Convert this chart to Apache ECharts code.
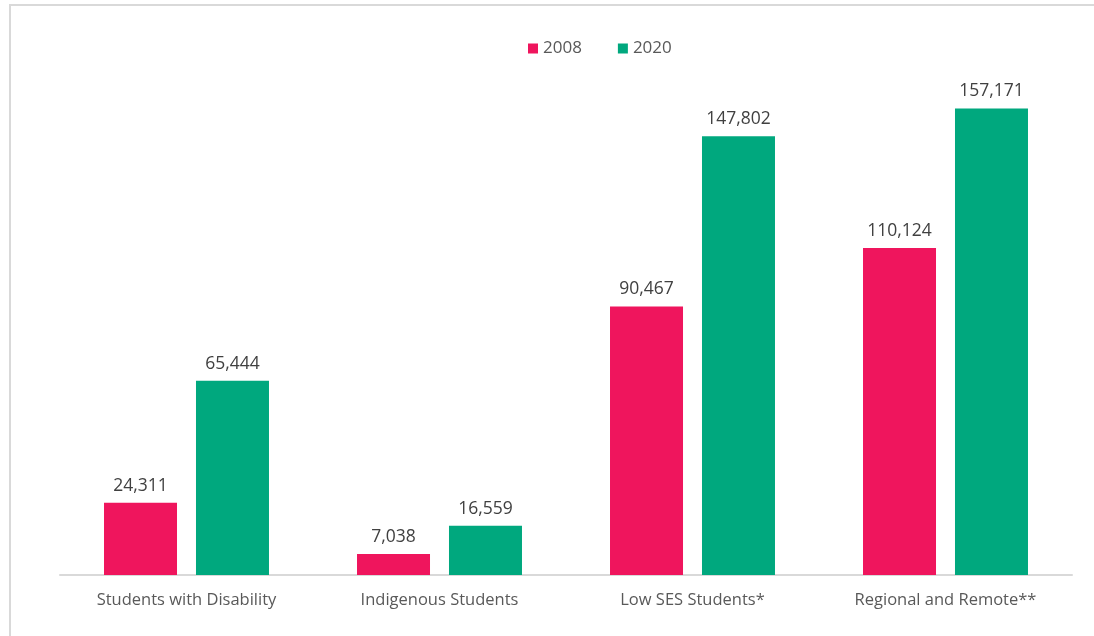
<!DOCTYPE html>
<html>
<head>
<meta charset="utf-8">
<script src="https://cdn.jsdelivr.net/npm/echarts@6/dist/echarts.min.js"></script>
<style>
  html, body { margin: 0; padding: 0; background: #fff; overflow: hidden; }
  .frame { position: absolute; left: 9px; top: 4px; width: 1200px; height: 800px; border: 2px solid #d9d9d9; box-sizing: border-box; }
  #chart { position: absolute; left: 0; top: 0; width: 1094px; height: 636px; }
</style>
</head>
<body>
<div class="frame"></div>
<div id="chart"></div>
<script>
  const categories = ['Students with Disability', 'Indigenous Students', 'Low SES Students*', 'Regional and Remote**']
  const values2008 = [24311, 7038, 90467, 110124]
  const values2020 = [65444, 16559, 147802, 157171]

  const fontFamily = '"Open Sans", "Noto Sans", sans-serif'
  const labelStyle = {
    show: true,
    position: 'top',
    distance: 8,
    color: '#404040',
    fontSize: 17.5,
    fontFamily: fontFamily,
    formatter: p => p.value.toLocaleString('en-US')
  }

  const myChart = echarts.init(document.getElementById('chart'))
  myChart.setOption({
    animation: false,
    legend: {
      top: 35,
      left: 523,
      itemWidth: 10,
      itemHeight: 10,
      itemGap: 36,
      icon: 'rect',
      textStyle: { color: '#595959', fontSize: 17, fontFamily: fontFamily }
    },
    grid: { left: 60, right: 22, top: 100, bottom: 61 },
    xAxis: {
      type: 'category',
      data: categories,
      axisLine: { lineStyle: { color: '#d9d9d9', width: 2 } },
      axisTick: { show: false },
      axisLabel: { color: '#595959', fontSize: 16.5, fontFamily: fontFamily, margin: 17 }
    },
    yAxis: {
      type: 'value',
      min: 0,
      max: 160000,
      show: false,
      splitLine: { show: false }
    },
    series: [
      {
        name: '2008',
        type: 'bar',
        data: values2008,
        barWidth: 73,
        barGap: '26%',
        itemStyle: { color: '#ef155d' },
        label: labelStyle
      },
      {
        name: '2020',
        type: 'bar',
        data: values2020,
        barWidth: 73,
        itemStyle: { color: '#00a87e' },
        label: labelStyle
      }
    ]
  })
</script>
</body>
</html>
